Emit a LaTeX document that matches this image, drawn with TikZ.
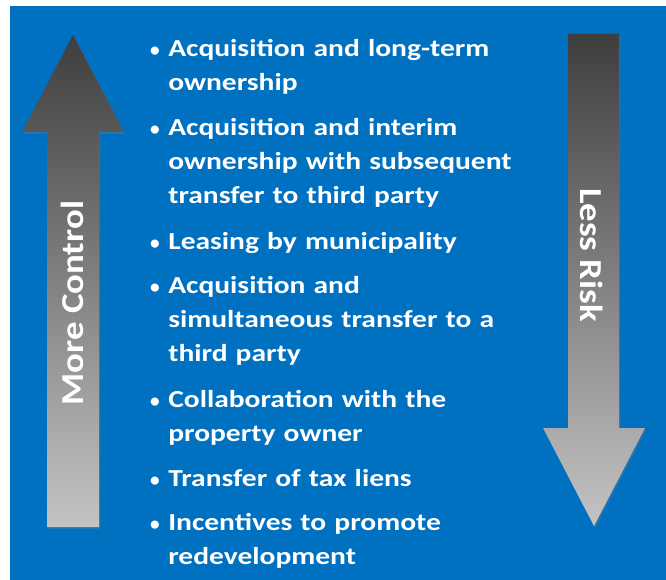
\documentclass[tikz,border=0pt]{standalone}
\usepackage{fontspec}
\setmainfont{Carlito}
\newfontfamily\ancha[FakeStretch=1.21, WordSpace=1.9]{Carlito}
\newfontfamily\anchalbl[FakeStretch=1.15]{Carlito}
\usepackage{xcolor}
\usepackage{tikz}
\usetikzlibrary{positioning,shadows}
\definecolor{fondo}{HTML}{0070C0}
\definecolor{oscuro}{HTML}{3E3E3E}
\definecolor{claro}{HTML}{C4C4C4}

\begin{document}
\begin{tikzpicture}[
  x=0.75pt, y=-0.75pt,
  every node/.style={text=white},
  flecha/.style={top color=oscuro, bottom color=claro, drop shadow={shadow xshift=1pt, shadow yshift=-1.5pt, opacity=0.3}},
  item/.style={anchor=base west, inner sep=0pt, text width=300pt, align=left, font=\ancha\bfseries\fontsize{18.3}{25.5}\selectfont},
  blt/.style={inner sep=0pt, font=\bfseries\fontsize{14.5}{14.5}\selectfont},
  lbl/.style={inner sep=0pt, font=\anchalbl\bfseries\fontsize{24}{24}\selectfont}
]
\useasboundingbox (0,0) rectangle (666,580);

% Fondo
\fill[fondo] (10,6) rectangle (666,580);

% Flechas
\path[flecha] (73,35) -- (124,132) -- (99,132) -- (99,527) -- (47,527) -- (47,132) -- (22,132) -- cycle;
\path[flecha] (568,34) -- (619,34) -- (619,428) -- (645,428) -- (594,526) -- (543,428) -- (568,428) -- cycle;
\node[lbl, rotate=90] (control) at (72,303) {More Control};
\node[lbl, rotate=-90] (riesgo) at (592,255) {Less Risk};

% Lista
\foreach \y/\txt [count=\i] in {
  57/{Acquisition and long-term\\ownership},
  136/{Acquisition and interim\\ownership with subsequent\\transfer to third party},
  250/{Leasing by municipality},
  294/{Acquisition and\\simultaneous transfer to a\\third party},
  407/{Collaboration with the\\property owner},
  486/{Transfer of tax liens},
  530/{Incentives to promote\\redevelopment}} {
  \node[item] (p\i) at (168,\y) {\txt};
  \node[blt, left=6pt of p\i.base west, anchor=base east] (b\i) {\textbullet};
}
\end{tikzpicture}
\end{document}
